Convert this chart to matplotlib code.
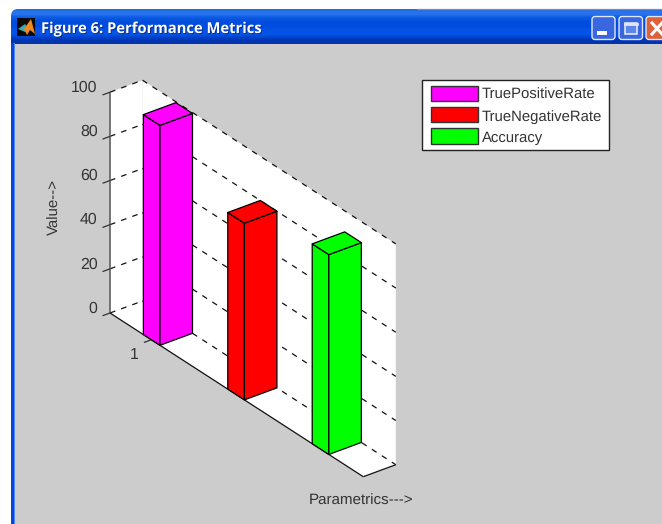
import matplotlib
matplotlib.use("Agg")
import numpy as np
import matplotlib.pyplot as plt
from matplotlib.patches import Polygon, Rectangle, FancyBboxPatch

metrics = ["TruePositiveRate", "TrueNegativeRate", "Accuracy"]
values = [99.6, 80.0, 90.5]
colors = ["#ff00ff", "#ff0000", "#00ff00"]
yticks = [0, 20, 40, 60, 80, 100]

plt.rcParams["font.family"] = ["Liberation Sans", "DejaVu Sans"]
plt.rcParams["text.hinting"] = "no_hinting"
TEXT = "#333333"
W, H = 662, 524


def project(s, d, v):
    # oblique view: s runs along the bars, d is the depth, v the bar height
    return (110 + s * 84.43 + d * 32.5, 313 + s * 54.57 - d * 12 - v * 2.208)


def face(*corners, **kw):
    ax.add_patch(Polygon([project(*c) for c in corners], closed=True, **kw))


def seg(a, b, **kw):
    pa, pb = project(*a), project(*b)
    ax.plot([pa[0], pb[0]], [pa[1], pb[1]], solid_capstyle="butt", **kw)


fig = plt.figure(figsize=(W / 100, H / 100), dpi=100, facecolor="white")
ax = fig.add_axes([0, 0, 1, 1])
ax.set_xlim(0, W)
ax.set_ylim(H, 0)
ax.axis("off")

# window frame
ax.add_patch(Rectangle((11, 20), 4, H, fc="#0a45e0", ec="none", zorder=1))
ax.add_patch(Rectangle((14, 43), 1.2, H, fc="#4f86ea", ec="none", zorder=1.2))
ax.add_patch(Rectangle((15, 42), W, 3, fc="#0035b0", ec="none", zorder=0.5))
ax.add_patch(Rectangle((15, 44), W, H, fc="#cccccc", ec="none", zorder=1.5))
ax.plot([417, W], [8.5, 8.5], color="#8a8a8a", lw=0.9)

# title bar, light at the top edge and darker along the bottom
shades = np.array([[0.10, 0.42, 0.90], [0.16, 0.45, 0.93], [0.16, 0.45, 0.93],
                   [0.06, 0.37, 0.90], [0.03, 0.33, 0.88], [0.00, 0.30, 0.87],
                   [0.00, 0.30, 0.87], [0.00, 0.30, 0.88], [0.02, 0.32, 0.90],
                   [0.02, 0.33, 0.90], [0.02, 0.33, 0.90], [0.00, 0.28, 0.82],
                   [0.00, 0.22, 0.72], [0.00, 0.20, 0.68]])
strip = shades[:, None, :]
clip = FancyBboxPatch((11, 9), W, 60, boxstyle="round,pad=0,rounding_size=7", transform=ax.transData)
im = ax.imshow(strip, extent=(11, W, 43.5, 9), aspect="auto", zorder=1, interpolation="bilinear")
im.set_clip_path(clip)
ax.set_xlim(0, W)
ax.set_ylim(H, 0)

# title icon
ax.add_patch(Rectangle((17, 18), 18, 18, fc="#0a0a0a", ec="none", zorder=2))
ax.add_patch(Polygon([(18, 29), (25, 24), (28, 29), (25, 32)], fc="#3fa7b5", ec="none", zorder=3))
ax.add_patch(Polygon([(24, 29), (31, 19), (35, 34), (30, 30), (27, 35)], fc="#f08a20", ec="none", zorder=3))
ax.text(42, 30.5, "Figure 6: Performance Metrics", color="#0b2f8a", fontsize=10.6,
        fontweight="bold", family="Open Sans", va="center", zorder=3)
ax.text(41, 29.5, "Figure 6: Performance Metrics", color="white", fontsize=10.6,
        fontweight="bold", family="Open Sans", va="center", zorder=4)

# window buttons
for x0, wd, fc in [(592, 23, "#3a66e0"), (619, 23.5, "#3a66e0"), (646, 24, "#e0603a")]:
    ax.add_patch(FancyBboxPatch((x0, 16.5), wd, 23, boxstyle="round,pad=0,rounding_size=3",
                                fc=fc, ec="#dfe8fb", lw=1.0, zorder=3))
ax.add_patch(Rectangle((597, 31), 10, 3.5, fc="white", ec="none", zorder=4))
ax.add_patch(Rectangle((625, 22.5), 12, 11, fc="#5f86ea", ec="#dfe8fb", lw=1.2, zorder=4))
ax.plot([625, 637], [23.5, 23.5], color="#dfe8fb", lw=2, zorder=4)
ax.plot([652, 662], [23, 34], color="white", lw=2.2, zorder=4)
ax.plot([652, 662], [34, 23], color="white", lw=2.2, zorder=4)

# walls and floor
top = yticks[-1]
smax = 3
white = dict(fc="white", ec="none", zorder=2)
face((0, 0, 0), (0, 1, 0), (0, 1, top), (0, 0, top), **white)
face((0, 1, 0), (smax, 1, 0), (smax, 1, top), (0, 1, top), **white)
face((0, 0, 0), (smax, 0, 0), (smax, 1, 0), (0, 1, 0), **white)

# dashed grid
grid = dict(color="#111111", lw=0.9, dashes=(4.5, 5), zorder=3)
for v in yticks:
    seg((0, 0, v), (0, 1, v), **grid)
    seg((0, 1, v), (smax, 1, v), **grid)

# axis lines and ticks
seg((0, 0, 0), (0, 0, top), color="#555555", lw=1.1, zorder=4)
seg((0, 0, 0), (smax, 0, 0), color="#111111", lw=0.9, zorder=4)
seg((smax, 0, 0), (smax, 1, 0), color="#111111", lw=0.9, zorder=4)
for v in yticks:
    seg((0, 0, v), (0, -0.23, v), color="#333333", lw=0.9, zorder=4)
    px, py = project(0, 0, v)
    ax.text(97.5, py - 4.5, str(v), ha="right", va="center", fontsize=11.4, color=TEXT, zorder=5)
seg((0.49, 0, 0), (0.49, -0.23, 0), color="#333333", lw=0.9, zorder=4)
ax.text(134, 355, "1", ha="center", va="center", fontsize=11.4, color=TEXT, zorder=5)

# bars
edge = dict(ec="#000000", lw=0.9, joinstyle="round", zorder=6)
for i, (val, col) in enumerate(zip(values, colors)):
    s0, s1 = 0.395 + i, 0.592 + i
    face((s0, 0, 0), (s1, 0, 0), (s1, 0, val), (s0, 0, val), fc=col, **edge)
    face((s1, 0, 0), (s1, 1, 0), (s1, 1, val), (s1, 0, val), fc=col, **edge)
    face((s0, 0, val), (s1, 0, val), (s1, 1, val), (s0, 1, val), fc=col, **edge)

ax.text(55, 207, "Value-->", rotation=90, ha="center", va="center", fontsize=10.8, color=TEXT)
ax.text(361.5, 500.5, "Parametrics--->", ha="center", va="center", fontsize=10.9, color=TEXT)

# legend
ax.add_patch(Rectangle((421.5, 80), 187, 69.5, fc="white", ec="#222222", lw=1.0, zorder=5))
for name, col, y0, y1, base in zip(metrics, colors, [85.5, 107, 127.5], [101, 122, 144], [99, 120.5, 142]):
    ax.add_patch(Rectangle((431, y0), 47, y1 - y0, fc=col, ec="#333333", lw=1.0, zorder=6))
    ax.text(482, base, name, va="baseline", fontsize=10.7, color=TEXT, zorder=6)

fig.savefig("out.png", dpi=100, facecolor="white")
